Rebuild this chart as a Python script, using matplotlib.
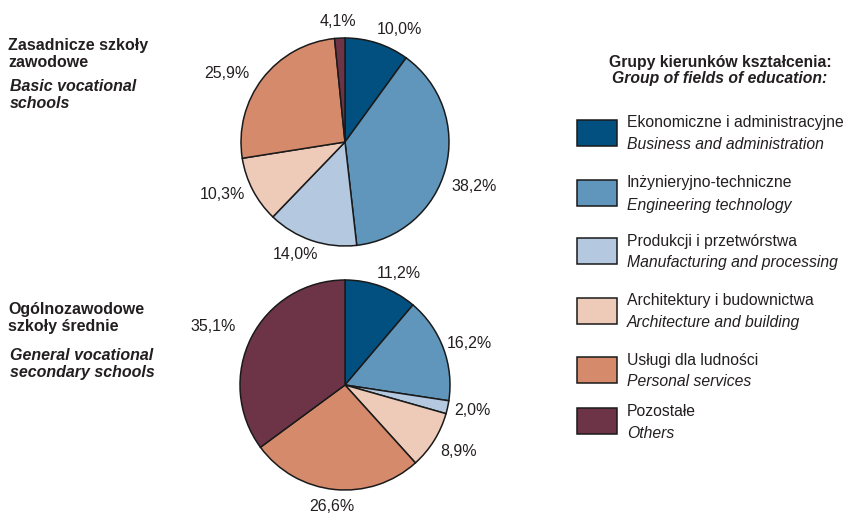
import matplotlib.pyplot as plt

plt.rcParams['font.family'] = ['Liberation Sans', 'DejaVu Sans']

categories_pl = ['Ekonomiczne i administracyjne', 'Inżynieryjno-techniczne',
                 'Produkcji i przetwórstwa', 'Architektury i budownictwa',
                 'Usługi dla ludności', 'Pozostałe']
categories_en = ['Business and administration', 'Engineering technology',
                 'Manufacturing and processing', 'Architecture and building',
                 'Personal services', 'Others']
colors = ['#01507f', '#6096bb', '#b4c9e0', '#eecab8', '#d68a6c', '#6d3447']

# Basic vocational schools: printed labels, and slice sizes as drawn
basic_labels = ['10,0%', '38,2%', '14,0%', '10,3%', '25,9%', '4,1%']
basic_shares = [10.0, 38.2, 14.0, 10.3, 25.9, 1.6]

# General vocational secondary schools
general_labels = ['11,2%', '16,2%', '2,0%', '8,9%', '26,6%', '35,1%']
general_shares = [11.2, 16.2, 2.0, 8.9, 26.6, 35.1]

W, H = 849, 517
fig = plt.figure(figsize=(W / 100, H / 100), dpi=100)

# label nudges in pixels (right, down), to match the hand placed labels
basic_nudge = [(-6, 2), (-10, 14), (12, -2), (7, -3), (0, 5), (17, 0)]
general_nudge = [(-10, 3), (-12, 1), (-10, 0), (-8, 2), (22, 0), (0, -4)]


def pie_axes(cx, cy, r):
    half = 1.6 * r
    ax = fig.add_axes([(cx - half) / W, 1 - (cy + half) / H, 2 * half / W, 2 * half / H])
    return ax


def draw_pie(ax, shares, labels, r, nudge):
    wedges, texts = ax.pie(shares, colors=colors, startangle=90, counterclock=False,
                           normalize=True, labels=labels, labeldistance=1.16,
                           wedgeprops=dict(edgecolor='#1a1a1a', linewidth=1.1),
                           textprops=dict(fontsize=11.5, color='#231f20'))
    for t, (dx, dy) in zip(texts, nudge):
        x, y = t.get_position()
        t.set_position((x + dx / r, y - dy / r))
    ax.set_xlim(-1.6, 1.6)
    ax.set_ylim(-1.6, 1.6)
    ax.axis('off')


ax1 = pie_axes(345, 142, 104)
draw_pie(ax1, basic_shares, basic_labels, 104, basic_nudge)
ax2 = pie_axes(345, 385, 105)
draw_pie(ax2, general_shares, general_labels, 105, general_nudge)

tc = '#231f20'
fig.text(8 / W, 1 - 54 / H, 'Zasadnicze szkoły\nzawodowe', fontsize=11.5, fontweight='bold',
         color=tc, va='center', linespacing=1.2)
fig.text(10 / W, 1 - 95 / H, 'Basic vocational\nschools', fontsize=11.5, fontweight='bold',
         style='italic', color=tc, va='center', linespacing=1.2)
fig.text(8 / W, 1 - 318 / H, 'Ogólnozawodowe\nszkoły średnie', fontsize=11.5, fontweight='bold',
         color=tc, va='center', linespacing=1.2)
fig.text(10 / W, 1 - 364 / H, 'General vocational\nsecondary schools', fontsize=11.5,
         fontweight='bold', style='italic', color=tc, va='center', linespacing=1.2)

fig.text(720 / W, 1 - 63 / H, 'Grupy kierunków kształcenia:', fontsize=11.3, fontweight='bold',
         color=tc, ha='center', va='center')
fig.text(720 / W, 1 - 79 / H, 'Group of fields of education:', fontsize=11.3, fontweight='bold',
         style='italic', color=tc, ha='center', va='center')

box_tops = [120, 180, 238, 298, 357, 408]
for top, col, pl, en in zip(box_tops, colors, categories_pl, categories_en):
    fig.patches.append(plt.Rectangle((577 / W, 1 - (top + 26) / H), 40 / W, 26 / H,
                                     facecolor=col, edgecolor='#1a1a1a', linewidth=1.1,
                                     transform=fig.transFigure))
    fig.text(627 / W, 1 - (top + 3) / H, pl, fontsize=11.3, color=tc, va='center')
    fig.text(627 / W, 1 - (top + 25) / H, en, fontsize=11.3, style='italic', color=tc, va='center')

fig.savefig('out.png', dpi=100)
